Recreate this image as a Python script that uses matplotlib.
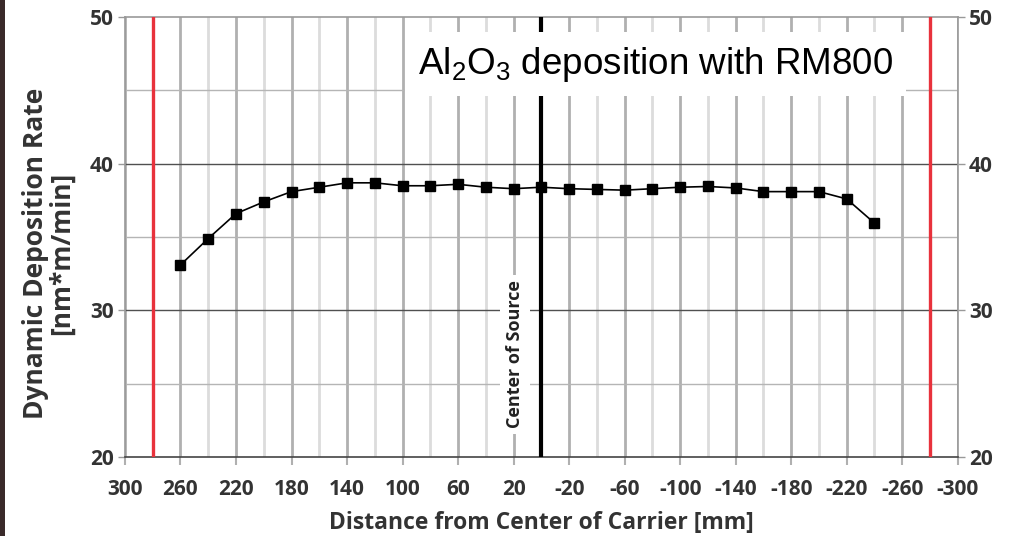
import numpy as np
import matplotlib.pyplot as plt
from matplotlib.patches import Rectangle

plt.rcParams['mathtext.fontset'] = 'custom'
plt.rcParams['mathtext.rm'] = 'Liberation Sans'

# data
distance = [260, 240, 220, 200, 180, 160, 140, 120, 100, 80, 60, 40, 20, 0,
            -20, -40, -60, -80, -100, -120, -140, -160, -180, -200, -220, -240]
rate = [33.1, 34.9, 36.6, 37.4, 38.1, 38.4, 38.7, 38.7, 38.5, 38.5, 38.6, 38.4, 38.3, 38.4,
        38.3, 38.25, 38.2, 38.3, 38.4, 38.45, 38.35, 38.1, 38.1, 38.1, 37.6, 35.95]
x_ticks = [300, 260, 220, 180, 140, 100, 60, 20, -20, -60, -100, -140, -180, -220, -260, -300]
y_ticks = [20, 30, 40, 50]
carrier_edges = [280, -280]
source_center = 0

lbl_font = 'Open Sans'

fig = plt.figure(figsize=(10.2, 5.36), dpi=100)
ax = fig.add_axes([0.1225, 0.1474, 0.8165, 0.8206])

ax.set_xlim(300, -300)
ax.set_ylim(20, 50)

# grid: minor first, then major
for xv in np.arange(280, -300, -40):
    ax.axvline(xv, color='#dcdcdc', lw=2, zorder=1)
for xv in x_ticks:
    ax.axvline(xv, color='#b0b0b0', lw=2, zorder=1)
for yv in [25, 35, 45]:
    ax.axhline(yv, color='#b5b5b5', lw=1, zorder=1)
for yv in [30, 40]:
    ax.axhline(yv, color='#505050', lw=1, zorder=1)

for xv in carrier_edges:
    ax.axvline(xv, color='#e8323c', lw=2.4, zorder=3)

ax.text(19, 27.0, 'Center of Source', rotation=90, ha='center', va='center',
        fontsize=13, fontweight='bold', family=lbl_font, color='#222222',
        bbox=dict(facecolor='white', edgecolor='none', pad=4), zorder=4)
ax.axvline(source_center, color='black', lw=3, zorder=5)

ax.plot(distance, rate, color='black', lw=1.2, marker='s', markersize=7, zorder=6)

ax.text(-82, 46.8, r'Al$_2$O$_3$ deposition with RM800', ha='center', va='center',
        fontsize=26.5, family='Liberation Sans', color='black', zorder=7,
        bbox=dict(facecolor='white', edgecolor='none', boxstyle='square,pad=0.35'))

ax.set_xticks(x_ticks)
ax.set_xticklabels([str(v) for v in x_ticks])
ax.set_yticks(y_ticks)
ax.tick_params(axis='x', length=6, width=1.5, color='#b0b0b0', pad=10)
ax.tick_params(axis='y', length=5, width=1, color='#999999', left=True, right=True,
               labelleft=True, labelright=True, pad=3)
for lab in ax.get_xticklabels() + ax.get_yticklabels():
    lab.set_fontsize(15)
    lab.set_fontweight('bold')
    lab.set_family(lbl_font)
    lab.set_color('#333333')

for sp in ax.spines.values():
    sp.set_color('#999999')
    sp.set_linewidth(1.2)
ax.spines['bottom'].set_color('#444444')

ax.set_xlabel('Distance from Center of Carrier [mm]', fontsize=16.5, fontweight='bold',
              family=lbl_font, color='#333333', labelpad=8)
ax.set_ylabel('Dynamic Deposition Rate\n[nm*m/min]', fontsize=19, fontweight='bold',
              family=lbl_font, color='#333333', linespacing=0.95)
ax.yaxis.set_label_coords(-0.06, 0.464)

# dark strip at the left edge of the image
fig.patches.append(Rectangle((0, 0), 0.005, 1, transform=fig.transFigure,
                             facecolor='#3a2a2a', edgecolor='none'))

fig.savefig('out.png', dpi=100)
